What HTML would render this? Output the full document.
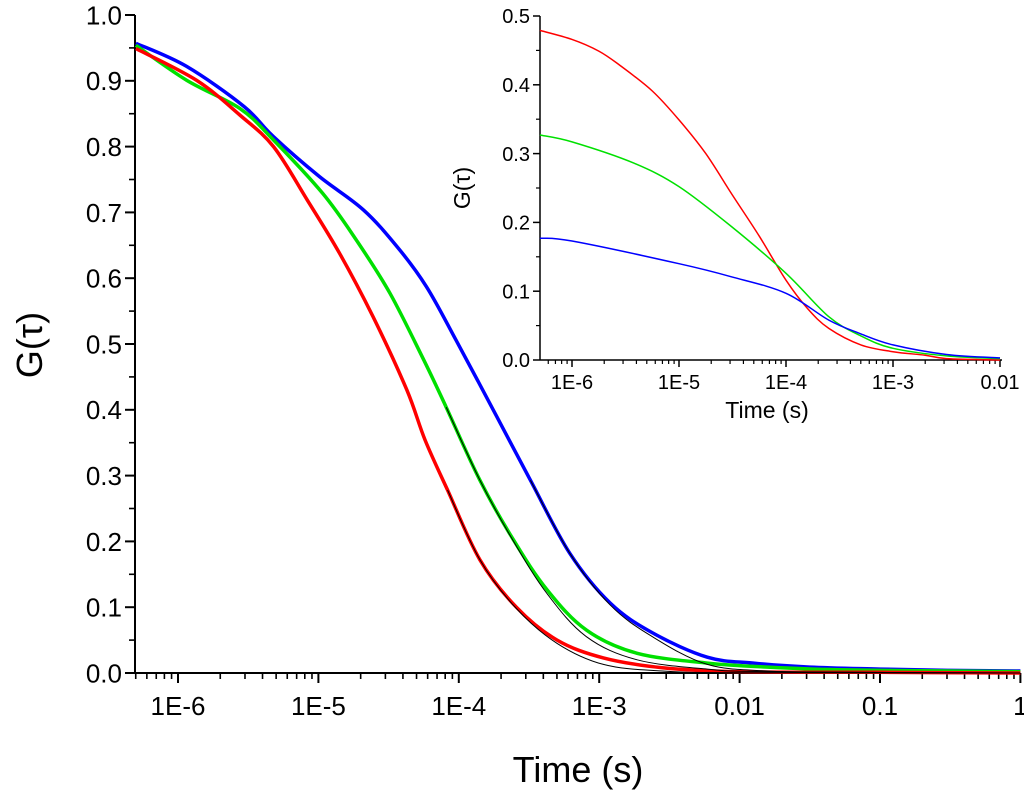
<!DOCTYPE html>
<html><head><meta charset="utf-8"><style>
body{margin:0;background:#fff}
svg text{font-family:"Liberation Sans",Arial,sans-serif;fill:#000}
</style></head><body>
<svg id="chart" width="1024" height="792" viewBox="0 0 1024 792" xmlns="http://www.w3.org/2000/svg"></svg>
<script>
// Main chart data: log10(time) and G(tau)
const redT=[-6.3,-5.87,-5.56,-5.32,-5.08,-4.85,-4.61,-4.37,-4.24,-4.08,-3.85,-3.59,-3.3,-2.97,-2.55,-2,-1,0];
const redG=[0.949,0.901,0.848,0.80,0.719,0.638,0.541,0.43,0.354,0.278,0.172,0.1,0.05,0.023,0.008,0.002,0.001,0];
const greenT=[-6.3,-5.94,-5.56,-5.32,-4.97,-4.73,-4.49,-4.25,-4.09,-3.85,-3.61,-3.37,-3.09,-2.73,-2.23,-1.8,-1.3,-0.5,0];
const greenG=[0.954,0.901,0.858,0.81,0.729,0.658,0.577,0.476,0.404,0.293,0.202,0.126,0.065,0.03,0.015,0.009,0.005,0.003,0.002];
const blueT=[-6.3,-5.94,-5.53,-5.32,-4.99,-4.68,-4.44,-4.23,-4.02,-3.73,-3.49,-3.21,-2.92,-2.62,-2.23,-1.9,-1.5,-1,-0.5,0];
const blueG=[0.957,0.922,0.861,0.815,0.754,0.704,0.648,0.587,0.506,0.39,0.293,0.182,0.106,0.061,0.024,0.015,0.009,0.006,0.004,0.003];
const fitRedT=[-4.08,-3.85,-3.59,-3.3,-2.97,-2.55,-2,0];
const fitRedG=[0.278,0.172,0.098,0.045,0.013,0.003,0.0005,0];
const fitGreenT=[-4.09,-3.85,-3.61,-3.37,-3.09,-2.73,-2.23,-1.8,0];
const fitGreenG=[0.404,0.293,0.2,0.12,0.055,0.02,0.006,0.002,0];
const fitBlueT=[-3.49,-3.21,-2.92,-2.62,-2.23,-1.8,-1.3,0];
const fitBlueG=[0.293,0.182,0.103,0.055,0.013,0.003,0.001,0];
const mainXTicks=["1E-6","1E-5","1E-4","1E-3","0.01","0.1","1"];
const mainYTicks=["0.0","0.1","0.2","0.3","0.4","0.5","0.6","0.7","0.8","0.9","1.0"];
// Inset data
const inRedT=[-6.3,-6,-5.75,-5.55,-5.25,-5,-4.75,-4.51,-4.25,-4,-3.8,-3.6,-3.3,-3,-2.7,-2.5,-2];
const inRedG=[0.479,0.466,0.449,0.428,0.391,0.349,0.30,0.242,0.18,0.116,0.075,0.046,0.022,0.012,0.007,0.002,0];
const inGreenT=[-6.3,-6,-5.42,-5,-4.51,-4,-3.6,-3.3,-3,-2.5,-2];
const inGreenG=[0.327,0.317,0.286,0.252,0.194,0.126,0.063,0.035,0.017,0.006,0.002];
const inBlueT=[-6.3,-6,-5,-4.51,-4,-3.6,-3.3,-3,-2.5,-2];
const inBlueG=[0.177,0.173,0.14,0.121,0.097,0.058,0.038,0.022,0.008,0.003];
const inXTicks=["1E-6","1E-5","1E-4","1E-3","0.01"];
const inYTicks=["0.0","0.1","0.2","0.3","0.4","0.5"];

const svg=document.getElementById('chart');
const NS='http://www.w3.org/2000/svg';
function mk(tag,attrs,parent){const e=document.createElementNS(NS,tag);for(const k in attrs)e.setAttribute(k,attrs[k]);(parent||svg).appendChild(e);return e;}

function drawAxes(ax,name){
  const g=mk('g',{});
  
  
  const xS=ax.xs,yS=ax.ys;
  mk('line',{x1:ax.x0,y1:yS(0),x2:ax.x1,y2:yS(0),stroke:'#000','stroke-width':ax.sw},g);
  mk('line',{x1:ax.x0,y1:yS(0),x2:ax.x0,y2:yS(ax.ymax),stroke:'#000','stroke-width':ax.sw},g);
  ax.xt.forEach((lab,i)=>{
    const x=xS(ax.dmin+i);
    mk('line',{x1:x,y1:yS(0),x2:x,y2:yS(0)+ax.maj,stroke:'#000','stroke-width':ax.sw},g);
    const t=mk('text',{x:x,y:yS(0)+ax.maj+ax.fs+ax.xgap,'font-size':ax.fs,'text-anchor':'middle'},g);
    t.textContent=lab;
    
    
  });
  for(let d=ax.dmin-1;d<=ax.dmax;d++)for(let m=2;m<10;m++){
    const lv=d+Math.log10(m);
    if(lv<ax.lmin||lv>ax.lmax)continue;
    const x=xS(lv);
    mk('line',{x1:x,y1:yS(0),x2:x,y2:yS(0)+ax.min,stroke:'#000','stroke-width':ax.sw*0.8},g);
  }
  ax.yt.forEach((lab,i)=>{
    const v=i*0.1,y=yS(v);
    mk('line',{x1:ax.x0,y1:y,x2:ax.x0-ax.maj,y2:y,stroke:'#000','stroke-width':ax.sw},g);
    if(i<ax.yt.length-1){const y2=yS(v+0.05);mk('line',{x1:ax.x0,y1:y2,x2:ax.x0-ax.min,y2:y2,stroke:'#000','stroke-width':ax.sw*0.8},g);}
    const t=mk('text',{x:ax.x0-ax.maj-3,y:y+ax.fs*0.36,'font-size':ax.fs,'text-anchor':'end'},g);
    t.textContent=lab;
    
    
  });
}
function drawLine(ax,T,G,color,w,name){
  const P=T.map((t,i)=>[ax.xs(Math.max(t,ax.lmin)),ax.ys(G[i])]);
  let d='M'+P[0][0].toFixed(1)+','+P[0][1].toFixed(1);
  for(let i=0;i<P.length-1;i++){
    const p0=P[Math.max(i-1,0)],p1=P[i],p2=P[i+1],p3=P[Math.min(i+2,P.length-1)];
    const c1=[p1[0]+(p2[0]-p0[0])/6,p1[1]+(p2[1]-p0[1])/6];
    const c2=[p2[0]-(p3[0]-p1[0])/6,p2[1]-(p3[1]-p1[1])/6];
    d+='C'+c1[0].toFixed(1)+','+c1[1].toFixed(1)+' '+c2[0].toFixed(1)+','+c2[1].toFixed(1)+' '+p2[0].toFixed(1)+','+p2[1].toFixed(1);
  }
  const p=mk('path',{d:d,fill:'none',stroke:color,'stroke-width':w,'stroke-linejoin':'round'});
  
  
}
// Main axes
const main={x0:135,x1:1020,lmin:-6.306,lmax:0,dmin:-6,dmax:0,ymax:1.0,sw:2,maj:10,min:6,fs:26,xgap:6,
  xs:l=>178+(l+6)*140.4, ys:v=>673-v*658, xt:mainXTicks, yt:mainYTicks};
drawAxes(main,'main');
drawLine(main,blueT,blueG,'#0000ff',3.5,'blue-curve');
drawLine(main,greenT,greenG,'#00e000',3.5,'green-curve');
drawLine(main,redT,redG,'#ff0000',3.5,'red-curve');
drawLine(main,fitRedT,fitRedG,'#000',1,'red-fit');
drawLine(main,fitGreenT,fitGreenG,'#000',1,'green-fit');
drawLine(main,fitBlueT,fitBlueG,'#000',1,'blue-fit');
let t=mk('text',{x:578,y:782,'font-size':36,'text-anchor':'middle'});t.textContent='Time (s)';

t=mk('text',{x:0,y:0,'font-size':36,'text-anchor':'middle',transform:'translate(42,345) rotate(-90)'});t.textContent='G(τ)';

// Inset
const inset={x0:540,x1:1002,lmin:-6.3,lmax:-2,dmin:-6,dmax:-2,ymax:0.5,sw:1.5,maj:7,min:4,fs:20,xgap:2,
  xs:l=>572+(l+6)*107, ys:v=>360-v*688, xt:inXTicks, yt:inYTicks};
drawAxes(inset,'inset');
drawLine(inset,inRedT,inRedG,'#ff0000',1.5,'inset-red-curve');
drawLine(inset,inGreenT,inGreenG,'#00e000',1.5,'inset-green-curve');
drawLine(inset,inBlueT,inBlueG,'#0000ff',1.5,'inset-blue-curve');
t=mk('text',{x:767,y:418,'font-size':23,'text-anchor':'middle'});t.textContent='Time (s)';

t=mk('text',{x:0,y:0,'font-size':23,'text-anchor':'middle',transform:'translate(470,188) rotate(-90)'});t.textContent='G(τ)';

</script>
</body></html>
